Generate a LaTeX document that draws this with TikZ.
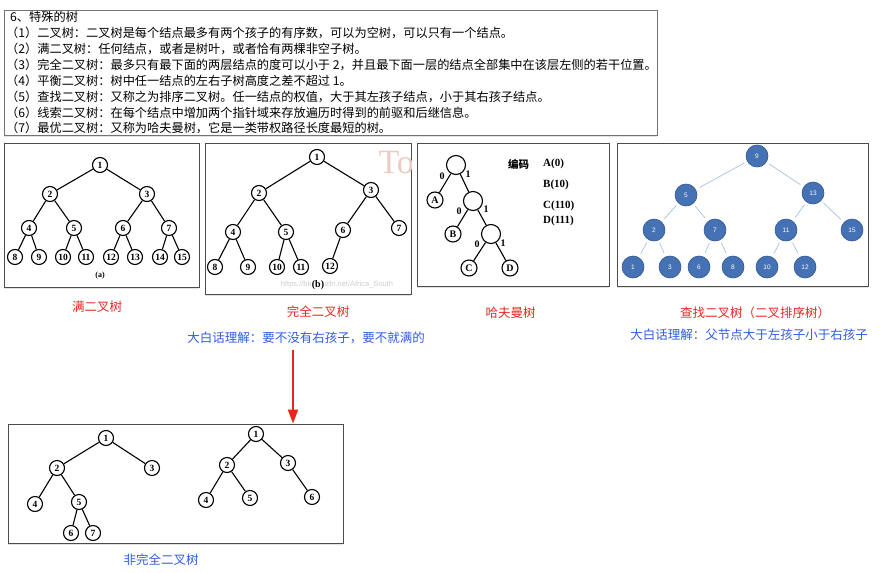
\documentclass[tikz,border=0pt]{standalone}
\usepackage{fontspec}
\setmainfont{Liberation Serif}
\newfontfamily\cjk{Noto Sans CJK SC}
\newfontfamily\lsans{Liberation Sans}
\usetikzlibrary{arrows.meta,positioning,shadows}
\usepackage{xcolor}

\definecolor{lblred}{RGB}{232,38,30}
\definecolor{lblblue}{RGB}{48,92,228}
\definecolor{bstfill}{RGB}{68,114,180}
\definecolor{bstdraw}{RGB}{50,88,145}
\definecolor{bstline}{RGB}{168,194,226}
\definecolor{wmgray}{RGB}{205,205,205}
\definecolor{wmred}{RGB}{236,204,194}

\begin{document}
\begin{tikzpicture}[
            x=1pt, y=-1pt,
            panel/.style={rectangle, draw=black!70, line width=0.8pt, fill=white, inner sep=0pt,
                drop shadow={opacity=0.22, shadow xshift=0pt, shadow yshift=-1.5pt}},
            deftext/.style={anchor=west, inner sep=0pt, font=\cjk\fontsize{12.2}{12.2}\selectfont},
            tnode/.style={circle, draw, line width=1.1pt, fill=white, minimum size=15pt, inner sep=0pt, font=\fontsize{9.5}{9.5}\selectfont\bfseries},
            hnode/.style={circle, draw, line width=1.1pt, fill=white, minimum size=16pt, inner sep=0pt, font=\fontsize{10}{10}\selectfont\bfseries},
            inode/.style={circle, draw, line width=1.1pt, fill=white, minimum size=19pt, inner sep=0pt},
            bnode/.style={circle, draw=bstdraw, line width=0.6pt, fill=bstfill, minimum size=22pt, inner sep=0pt, text=white, font=\lsans\fontsize{6.5}{6.5}\selectfont},
            tedge/.style={line width=1.1pt},
            bedge/.style={draw=bstline, line width=0.7pt, shorten <=3pt, shorten >=4pt},
            bit/.style={inner sep=0pt, font=\fontsize{10}{10}\selectfont\bfseries},
            code/.style={anchor=west, inner sep=0pt, font=\fontsize{11}{11}\selectfont\bfseries},
            redlbl/.style={text=lblred, inner sep=0pt, font=\cjk\fontsize{12.5}{12.5}\selectfont},
            bluelbl/.style={text=lblblue, inner sep=0pt, font=\cjk\fontsize{12.5}{12.5}\selectfont},
            arrow/.style={-{Triangle[length=14pt, width=10pt]}, draw=lblred, line width=2pt}
        ]
            \useasboundingbox (0,0) rectangle (881,573);

            % --- DEFINICOES ---
            \node[panel, draw=black!55, minimum width=653pt, minimum height=125pt] (defbox) at (330.5,72.5) {};
            \node[deftext] (title) at (10,17) {6、特殊的树};
            \node[deftext] (def1) at (6,33) {（1）二叉树：二叉树是每个结点最多有两个孩子的有序数，可以为空树，可以只有一个结点。};
            \node[deftext] (def2) at (6,49) {（2）满二叉树：任何结点，或者是树叶，或者恰有两棵非空子树。};
            \node[deftext] (def3) at (6,65) {（3）完全二叉树：最多只有最下面的两层结点的度可以小于 2，并且最下面一层的结点全部集中在该层左侧的若干位置。};
            \node[deftext] (def4) at (6,81) {（4）平衡二叉树：树中任一结点的左右子树高度之差不超过 1。};
            \node[deftext] (def5) at (6,97) {（5）查找二叉树：又称之为排序二叉树。任一结点的权值，大于其左孩子结点，小于其右孩子结点。};
            \node[deftext] (def6) at (6,113) {（6）线索二叉树：在每个结点中增加两个指针域来存放遍历时得到的前驱和后继信息。};
            \node[deftext] (def7) at (6,128) {（7）最优二叉树：又称为哈夫曼树，它是一类带权路径长度最短的树。};

            % --- MAN ERCHASHU (a) ---
            \node[panel, minimum width=195pt, minimum height=144pt] (fullbox) at (101.5,215) {};
            \node[tnode] (a1) at (100,165) {1};
            \node[tnode] (a2) at (50,194) {2};
            \node[tnode] (a3) at (147,194) {3};
            \node[tnode] (a4) at (29,228) {4};
            \node[tnode] (a5) at (74,228) {5};
            \node[tnode] (a6) at (123,228) {6};
            \node[tnode] (a7) at (169,228) {7};
            \node[tnode] (a8) at (15,257) {8};
            \node[tnode] (a9) at (39,257) {9};
            \node[tnode] (a10) at (63,257) {10};
            \node[tnode] (a11) at (86,257) {11};
            \node[tnode] (a12) at (111,257) {12};
            \node[tnode] (a13) at (135,257) {13};
            \node[tnode] (a14) at (160,257) {14};
            \node[tnode] (a15) at (182,257) {15};
            \node[font=\fontsize{8}{8}\selectfont\bfseries] (capA) at (100,276) {(a)};
            \draw[tedge] (a1) -- (a2) (a1) -- (a3) (a2) -- (a4) (a2) -- (a5) (a3) -- (a6) (a3) -- (a7)
                (a4) -- (a8) (a4) -- (a9) (a5) -- (a10) (a5) -- (a11) (a6) -- (a12) (a6) -- (a13)
                (a7) -- (a14) (a7) -- (a15);

            % --- WANQUAN ERCHASHU (b) ---
            \node[panel, minimum width=206pt, minimum height=151pt] (compbox) at (308,218.5) {};
            \begin{scope}
                \clip (205,143) rectangle (411,294);
                \node[anchor=west, text=wmred, font=\fontsize{34}{34}\selectfont] (wmTo) at (375,163) {To};
            \end{scope}
            \node[text=wmgray, inner sep=0pt, font=\lsans\fontsize{7.5}{7.5}\selectfont] (wmurl) at (337,285) {https://blog.csdn.net/Africa\_South};
            \node[tnode] (b1) at (317,157) {1};
            \node[tnode] (b2) at (259,193) {2};
            \node[tnode] (b3) at (371,190) {3};
            \node[tnode] (b4) at (233,232) {4};
            \node[tnode] (b5) at (286,232) {5};
            \node[tnode] (b6) at (343,230) {6};
            \node[tnode] (b7) at (399,228) {7};
            \node[tnode] (b8) at (215,267) {8};
            \node[tnode] (b9) at (248,267) {9};
            \node[tnode] (b10) at (277,267) {10};
            \node[tnode] (b11) at (301,267) {11};
            \node[tnode] (b12) at (330,266) {12};
            \node[fill=white, inner sep=1pt, font=\fontsize{10}{10}\selectfont\bfseries] (capB) at (318,285) {(b)};
            \draw[tedge] (b1) -- (b2) (b1) -- (b3) (b2) -- (b4) (b2) -- (b5) (b3) -- (b6) (b3) -- (b7)
                (b4) -- (b8) (b4) -- (b9) (b5) -- (b10) (b5) -- (b11) (b6) -- (b12);

            % --- HAFUMAN SHU ---
            \node[panel, minimum width=192pt, minimum height=143pt] (huffbox) at (513,214.5) {};
            \node[inode] (h1) at (456,165) {};
            \node[hnode] (hA) at (435,200) {A};
            \node[inode] (h2) at (473,201) {};
            \node[hnode] (hB) at (453,234) {B};
            \node[inode] (h3) at (491,234) {};
            \node[hnode] (hC) at (469,268) {C};
            \node[hnode] (hD) at (510,268) {D};
            \draw[tedge] (h1) -- (hA) (h1) -- (h2) (h2) -- (hB) (h2) -- (h3) (h3) -- (hC) (h3) -- (hD);
            \node[bit] (b0a) at (442,176) {0};
            \node[bit] (b1a) at (468,174) {1};
            \node[bit] (b0b) at (459,211) {0};
            \node[bit] (b1b) at (486,209) {1};
            \node[bit] (b0c) at (477,244) {0};
            \node[bit] (b1c) at (503,243) {1};
            \node[inner sep=0pt, font=\cjk\fontsize{10.5}{10.5}\selectfont\bfseries] (bianma) at (518.5,164) {编码};
            \node[code] (codeA) at (543,164) {A(0)};
            \node[code] (codeB) at (543,185) {B(10)};
            \node[code] (codeC) at (543,206) {C(110)};
            \node[code] (codeD) at (543,221) {D(111)};

            % --- CHAZHAO ERCHASHU ---
            \node[panel, minimum width=251pt, minimum height=143pt] (bstbox) at (742.5,214.5) {};
            \node[bnode] (s9) at (757,156) {9};
            \node[bnode] (s5) at (686,195) {5};
            \node[bnode] (s13) at (813,193) {13};
            \node[bnode] (s2) at (654,230) {2};
            \node[bnode] (s7) at (715,230) {7};
            \node[bnode] (s11) at (786,230) {11};
            \node[bnode] (s15) at (852,230) {15};
            \node[bnode] (s1) at (633,267) {1};
            \node[bnode] (s3) at (670,267) {3};
            \node[bnode] (s6) at (699,267) {6};
            \node[bnode] (s8) at (733,267) {8};
            \node[bnode] (s10) at (767,267) {10};
            \node[bnode] (s12) at (805,267) {12};
            \draw[bedge] (s9) -- (s5);
            \draw[bedge] (s9) -- (s13);
            \draw[bedge] (s5) -- (s2);
            \draw[bedge] (s5) -- (s7);
            \draw[bedge] (s13) -- (s11);
            \draw[bedge] (s13) -- (s15);
            \draw[bedge] (s2) -- (s1);
            \draw[bedge] (s2) -- (s3);
            \draw[bedge] (s7) -- (s6);
            \draw[bedge] (s7) -- (s8);
            \draw[bedge] (s11) -- (s10);
            \draw[bedge] (s11) -- (s12);

            % --- LEGENDAS ---
            \node[redlbl] (lblFull) at (97,307) {满二叉树};
            \node[redlbl] (lblComp) at (318,312) {完全二叉树};
            \node[redlbl] (lblHuff) at (510.5,313) {哈夫曼树};
            \node[redlbl] (lblBst) at (755,313) {查找二叉树（二叉排序树）};
            \node[bluelbl] (noteComp) at (306,338) {大白话理解：要不没有右孩子，要不就满的};
            \node[bluelbl] (noteBst) at (749,335) {大白话理解：父节点大于左孩子小于右孩子};

            % --- FEI WANQUAN ERCHASHU ---
            \node[panel, minimum width=335pt, minimum height=119pt] (ncbox) at (175.5,483.5) {};
            \node[tnode] (c1) at (106,438) {1};
            \node[tnode] (c2) at (57,468) {2};
            \node[tnode] (c3) at (152,468) {3};
            \node[tnode] (c4) at (35,504) {4};
            \node[tnode] (c5) at (79,502) {5};
            \node[tnode] (c6) at (71,533) {6};
            \node[tnode] (c7) at (93,533) {7};
            \draw[tedge] (c1) -- (c2) (c1) -- (c3) (c2) -- (c4) (c2) -- (c5) (c5) -- (c6) (c5) -- (c7);
            \node[tnode] (d1) at (256,434) {1};
            \node[tnode] (d2) at (227,465) {2};
            \node[tnode] (d3) at (288,463) {3};
            \node[tnode] (d4) at (206,500) {4};
            \node[tnode] (d5) at (250,498) {5};
            \node[tnode] (d6) at (312,497) {6};
            \draw[tedge] (d1) -- (d2) (d1) -- (d3) (d2) -- (d4) (d2) -- (d5) (d3) -- (d6);
            \node[bluelbl] (lblNc) at (161,560) {非完全二叉树};

            % seta do completo para o nao completo
            \coordinate (arrTop) at (293,350);
            \draw[arrow] (arrTop) -- (arrTop |- ncbox.north);

        \end{tikzpicture}
\end{document}
